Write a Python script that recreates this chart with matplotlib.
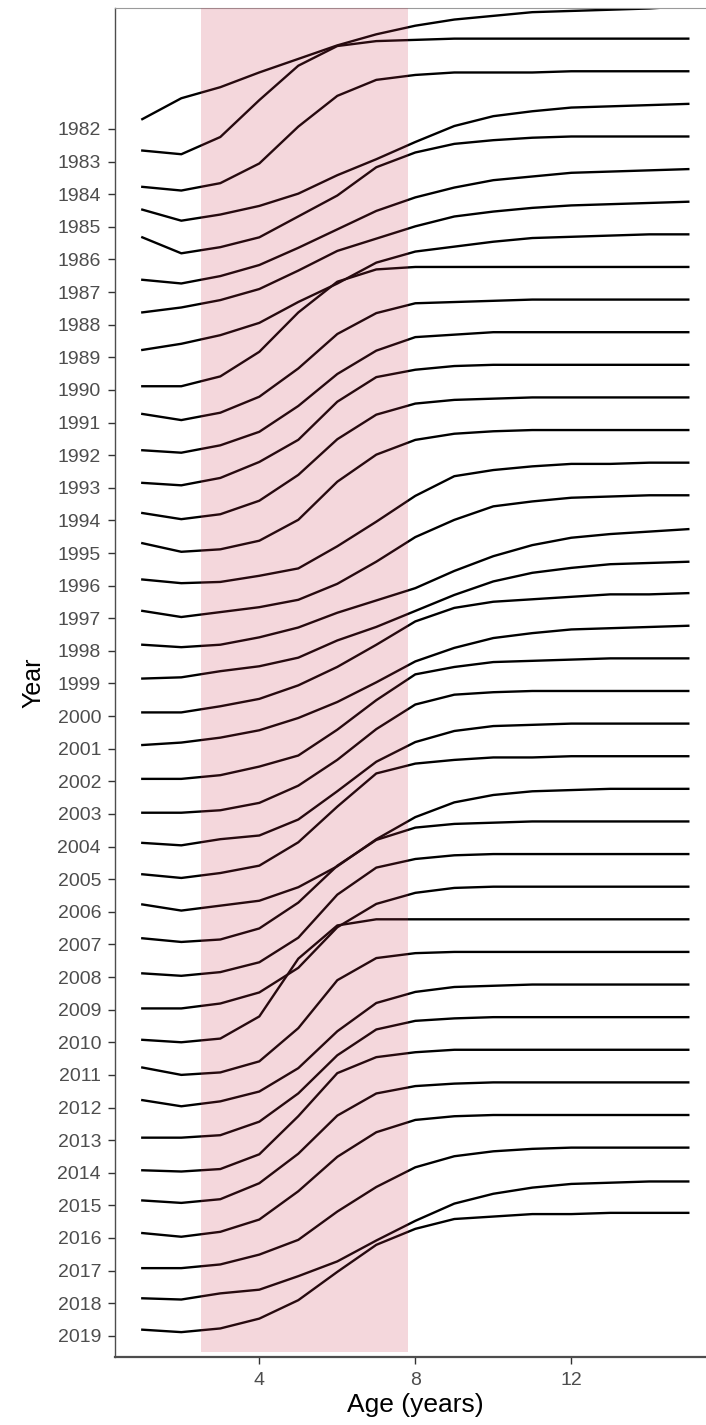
import matplotlib
matplotlib.use("Agg")
import matplotlib.pyplot as plt
import numpy as np

plt.rcParams['font.family'] = ['Liberation Sans', 'DejaVu Sans']

ages = np.arange(1, 16)
years = np.arange(1982, 2020)

# relative value at age (fraction of the age-15 value), one row per year
rel = [
    [0.08, 0.25, 0.34, 0.46, 0.57, 0.68, 0.77, 0.84, 0.89, 0.92, 0.95, 0.96, 0.97, 0.98, 1.00],  # 1982
    [0.09, 0.06, 0.20, 0.50, 0.78, 0.94, 0.98, 0.99, 1.00, 1.00, 1.00, 1.00, 1.00, 1.00, 1.00],  # 1983
    [0.06, 0.03, 0.09, 0.25, 0.55, 0.80, 0.93, 0.97, 0.99, 0.99, 0.99, 1.00, 1.00, 1.00, 1.00],  # 1984
    [0.14, 0.05, 0.10, 0.17, 0.27, 0.42, 0.55, 0.69, 0.82, 0.90, 0.94, 0.97, 0.98, 0.99, 1.00],  # 1985
    [0.18, 0.05, 0.10, 0.18, 0.35, 0.52, 0.75, 0.87, 0.94, 0.97, 0.99, 1.00, 1.00, 1.00, 1.00],  # 1986
    [0.10, 0.07, 0.13, 0.22, 0.36, 0.51, 0.66, 0.77, 0.85, 0.91, 0.94, 0.97, 0.98, 0.99, 1.00],  # 1987
    [0.10, 0.14, 0.20, 0.29, 0.44, 0.60, 0.70, 0.80, 0.88, 0.92, 0.95, 0.97, 0.98, 0.99, 1.00],  # 1988
    [0.06, 0.11, 0.18, 0.28, 0.45, 0.60, 0.77, 0.86, 0.90, 0.94, 0.97, 0.98, 0.99, 1.00, 1.00],  # 1989
    [0.03, 0.03, 0.11, 0.31, 0.63, 0.88, 0.98, 1.00, 1.00, 1.00, 1.00, 1.00, 1.00, 1.00, 1.00],  # 1990
    [0.07, 0.02, 0.08, 0.21, 0.44, 0.72, 0.89, 0.97, 0.98, 0.99, 1.00, 1.00, 1.00, 1.00, 1.00],  # 1991
    [0.04, 0.02, 0.08, 0.19, 0.40, 0.66, 0.85, 0.96, 0.98, 1.00, 1.00, 1.00, 1.00, 1.00, 1.00],  # 1992
    [0.04, 0.02, 0.08, 0.21, 0.39, 0.70, 0.90, 0.96, 0.99, 1.00, 1.00, 1.00, 1.00, 1.00, 1.00],  # 1993
    [0.06, 0.01, 0.05, 0.16, 0.37, 0.66, 0.86, 0.95, 0.98, 0.99, 1.00, 1.00, 1.00, 1.00, 1.00],  # 1994
    [0.08, 0.01, 0.03, 0.10, 0.27, 0.58, 0.80, 0.92, 0.97, 0.99, 1.00, 1.00, 1.00, 1.00, 1.00],  # 1995
    [0.05, 0.02, 0.03, 0.08, 0.14, 0.32, 0.52, 0.73, 0.89, 0.94, 0.97, 0.99, 0.99, 1.00, 1.00],  # 1996
    [0.06, 0.01, 0.05, 0.09, 0.15, 0.28, 0.46, 0.66, 0.80, 0.91, 0.95, 0.98, 0.99, 1.00, 1.00],  # 1997
    [0.05, 0.03, 0.05, 0.11, 0.19, 0.31, 0.41, 0.51, 0.65, 0.77, 0.86, 0.92, 0.95, 0.97, 0.99],  # 1998
    [0.04, 0.05, 0.10, 0.14, 0.21, 0.35, 0.46, 0.59, 0.72, 0.83, 0.90, 0.94, 0.97, 0.98, 0.99],  # 1999
    [0.03, 0.03, 0.08, 0.14, 0.25, 0.40, 0.58, 0.77, 0.88, 0.93, 0.95, 0.97, 0.99, 0.99, 1.00],  # 2000
    [0.03, 0.05, 0.09, 0.15, 0.25, 0.38, 0.54, 0.71, 0.82, 0.90, 0.94, 0.97, 0.98, 0.99, 1.00],  # 2001
    [0.02, 0.02, 0.05, 0.12, 0.21, 0.42, 0.66, 0.87, 0.93, 0.97, 0.98, 0.99, 1.00, 1.00, 1.00],  # 2002
    [0.01, 0.01, 0.03, 0.09, 0.23, 0.44, 0.69, 0.89, 0.97, 0.99, 1.00, 1.00, 1.00, 1.00, 1.00],  # 2003
    [0.03, 0.01, 0.06, 0.09, 0.22, 0.45, 0.69, 0.85, 0.94, 0.98, 0.99, 1.00, 1.00, 1.00, 1.00],  # 2004
    [0.04, 0.01, 0.05, 0.11, 0.30, 0.59, 0.86, 0.94, 0.97, 0.99, 0.99, 1.00, 1.00, 1.00, 1.00],  # 2005
    [0.06, 0.01, 0.05, 0.09, 0.20, 0.37, 0.59, 0.77, 0.89, 0.95, 0.98, 0.99, 1.00, 1.00, 1.00],  # 2006
    [0.05, 0.02, 0.04, 0.13, 0.34, 0.64, 0.85, 0.95, 0.98, 0.99, 1.00, 1.00, 1.00, 1.00, 1.00],  # 2007
    [0.03, 0.01, 0.04, 0.12, 0.32, 0.67, 0.89, 0.96, 0.99, 1.00, 1.00, 1.00, 1.00, 1.00, 1.00],  # 2008
    [0.01, 0.01, 0.05, 0.14, 0.34, 0.67, 0.86, 0.95, 0.99, 1.00, 1.00, 1.00, 1.00, 1.00, 1.00],  # 2009
    [0.02, 0.00, 0.03, 0.21, 0.68, 0.95, 1.00, 1.00, 1.00, 1.00, 1.00, 1.00, 1.00, 1.00, 1.00],  # 2010
    [0.06, 0.00, 0.02, 0.11, 0.38, 0.77, 0.95, 0.99, 1.00, 1.00, 1.00, 1.00, 1.00, 1.00, 1.00],  # 2011
    [0.06, 0.01, 0.05, 0.13, 0.32, 0.62, 0.85, 0.94, 0.98, 0.99, 1.00, 1.00, 1.00, 1.00, 1.00],  # 2012
    [0.02, 0.02, 0.04, 0.15, 0.38, 0.69, 0.90, 0.97, 0.99, 1.00, 1.00, 1.00, 1.00, 1.00, 1.00],  # 2013
    [0.02, 0.01, 0.03, 0.15, 0.46, 0.81, 0.94, 0.98, 1.00, 1.00, 1.00, 1.00, 1.00, 1.00, 1.00],  # 2014
    [0.04, 0.02, 0.05, 0.18, 0.42, 0.73, 0.91, 0.97, 0.99, 1.00, 1.00, 1.00, 1.00, 1.00, 1.00],  # 2015
    [0.04, 0.01, 0.05, 0.15, 0.38, 0.66, 0.86, 0.96, 0.99, 1.00, 1.00, 1.00, 1.00, 1.00, 1.00],  # 2016
    [0.02, 0.02, 0.05, 0.13, 0.25, 0.48, 0.68, 0.84, 0.93, 0.97, 0.99, 1.00, 1.00, 1.00, 1.00],  # 2017
    [0.04, 0.03, 0.08, 0.11, 0.22, 0.34, 0.51, 0.67, 0.81, 0.89, 0.94, 0.97, 0.98, 0.99, 0.99],  # 2018
    [0.05, 0.03, 0.06, 0.14, 0.29, 0.52, 0.74, 0.87, 0.95, 0.97, 0.99, 0.99, 1.00, 1.00, 1.00],  # 2019
]

ridge_scale = 3.77          # height of a full ridge, in year rows
band = (2.5, 7.8)           # highlighted age range

fig = plt.figure(figsize=(7.06, 14.25), dpi=100)
ax = fig.add_axes([0.1629, 0.0477, 0.8507, 0.9467])

for yr, vals in zip(years, rel):
    ax.plot(ages, yr - ridge_scale * np.array(vals), color='black', lw=1.7,
            solid_joinstyle='round', zorder=2)

ax.axvspan(band[0], band[1], ymin=0.004, ymax=1, color='#c83750', alpha=0.2,
           lw=0, zorder=3)

ax.set_xlim(0.3, 15.7)
ax.set_ylim(2019.65, 1978.29)
ax.set_xticks([4, 8, 12])
ax.set_yticks(years)
ax.set_yticklabels([str(y) for y in years])

ax.tick_params(axis='both', colors='#333333', labelcolor='#4d4d4d',
               labelsize=14, length=5, width=1.0)
ax.tick_params(axis='y', pad=5)
ax.tick_params(axis='x', pad=6)

ax.spines['right'].set_visible(False)
ax.spines['top'].set_color('#9a9a9a')
ax.spines['top'].set_linewidth(0.8)
ax.spines['left'].set_color('#4d4d4d')
ax.spines['left'].set_linewidth(1.0)
ax.spines['bottom'].set_color('#4d4d4d')
ax.spines['bottom'].set_linewidth(1.6)

ax.set_xlabel('Age (years)', fontsize=19, color='black', labelpad=3)
ax.set_ylabel('Year', fontsize=18, color='black', labelpad=9)

fig.savefig('out.png', dpi=100)
